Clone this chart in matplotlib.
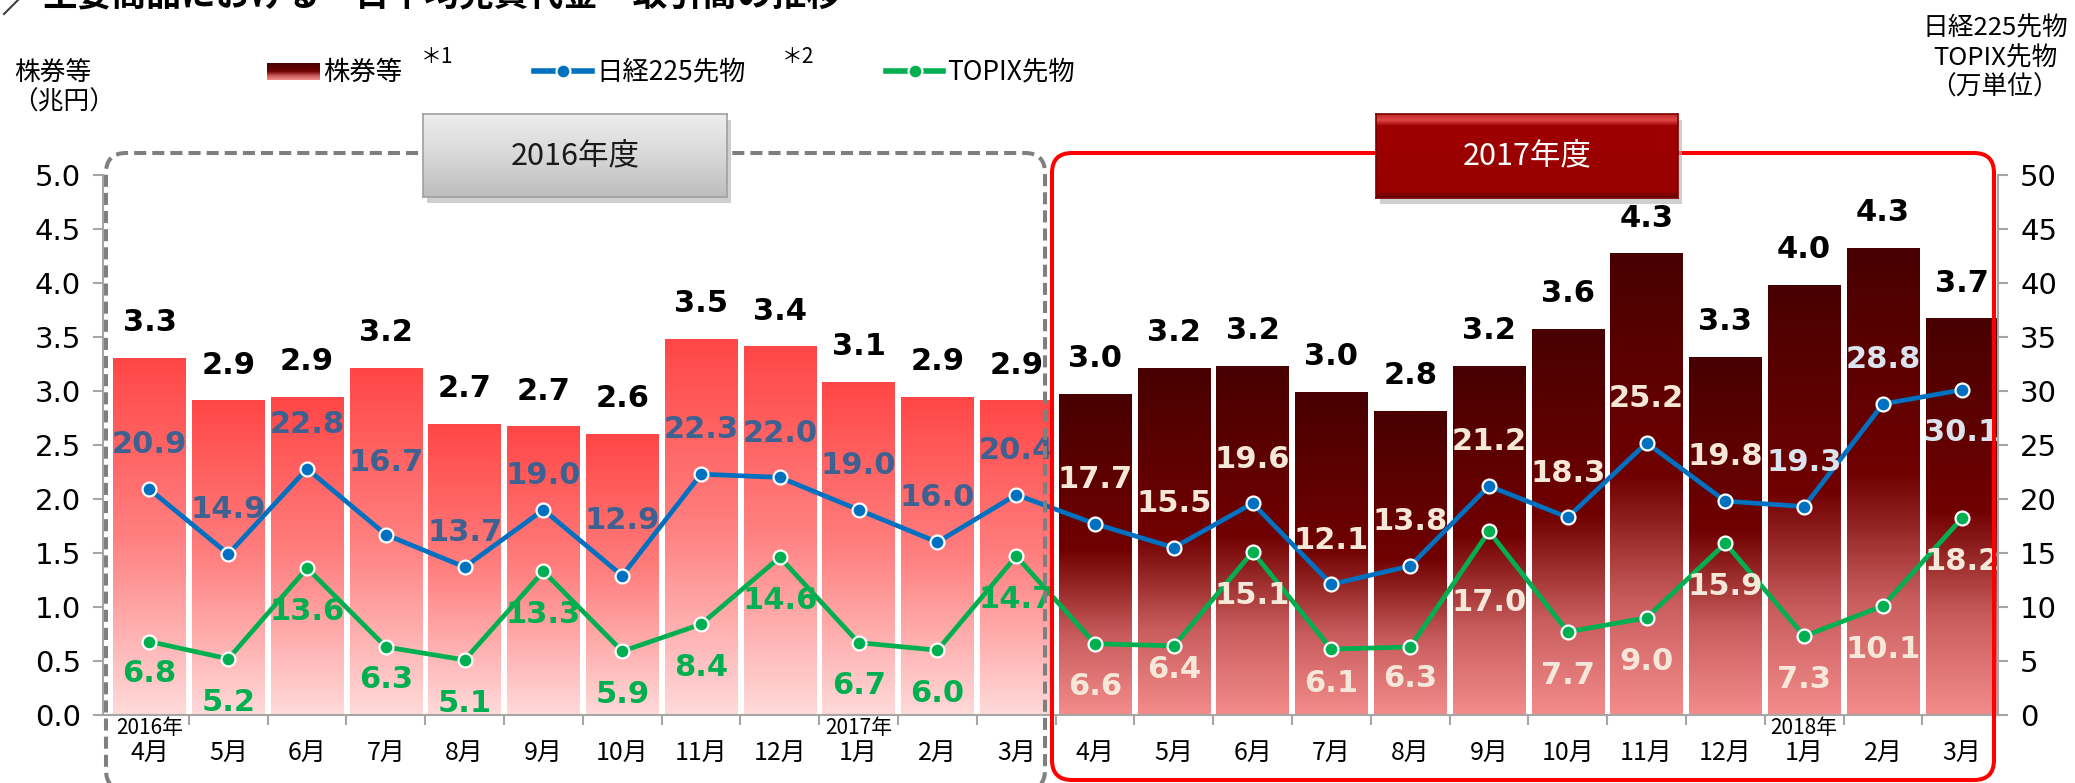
"""Daily average trading value / volume of main products"""

#%% Importing modules
import numpy as np
import matplotlib
matplotlib.use('Agg')
import matplotlib.pyplot as plt
from matplotlib.colors import LinearSegmentedColormap
from matplotlib.patches import FancyBboxPatch, Rectangle
from matplotlib.lines import Line2D
from matplotlib.transforms import IdentityTransform

plt.rcParams['font.family'] = ['Noto Sans CJK JP', 'DejaVu Sans']

#%% Data
months = ['4月', '5月', '6月', '7月', '8月', '9月', '10月', '11月', '12月', '1月', '2月', '3月'] * 2
years = {0: '2016年', 9: '2017年', 21: '2018年'}

# 株券等 (兆円)
stocks = [3.30, 2.91, 2.94, 3.21, 2.69, 2.67, 2.60, 3.48, 3.41, 3.08, 2.94, 2.91,
          2.97, 3.21, 3.23, 2.99, 2.81, 3.23, 3.57, 4.27, 3.31, 3.98, 4.32, 3.67]
# 日経225先物 (万単位)
nikkei = [20.9, 14.9, 22.8, 16.7, 13.7, 19.0, 12.9, 22.3, 22.0, 19.0, 16.0, 20.4,
          17.7, 15.5, 19.6, 12.1, 13.8, 21.2, 18.3, 25.2, 19.8, 19.3, 28.8, 30.1]
# TOPIX先物 (万単位)
topix = [6.8, 5.2, 13.6, 6.3, 5.1, 13.3, 5.9, 8.4, 14.6, 6.7, 6.0, 14.7,
         6.6, 6.4, 15.1, 6.1, 6.3, 17.0, 7.7, 9.0, 15.9, 7.3, 10.1, 18.2]

#%% Layout helpers (pixel -> figure fraction)
W, H = 2075, 783
def fx(px):
    return px / W
def fy(py):
    return 1 - py / H

GRAY = '#A6A6A6'
BLUE = '#0070C0'
GREEN = '#00B050'
cmap16 = LinearSegmentedColormap.from_list('c16', ['#FFDADA', '#FF8080', '#FF4646'])
cmap17 = LinearSegmentedColormap.from_list(
    'c17', [(0, '#F48C8C'), (0.25, '#C85C5C'), (0.42, '#902020'),
            (0.52, '#700000'), (1.0, '#480000')])
grad = np.linspace(0, 1, 256).reshape(-1, 1)

#%% Figure and axes
fig = plt.figure(figsize=(20.75, 7.83), dpi=100)
ax = fig.add_axes([fx(103), fy(715), fx(1998) - fx(103), fy(175) - fy(715)])
ax2 = ax.twinx()

x = np.arange(len(stocks))
bars = ax.bar(x, stocks, width=0.92, color='none', edgecolor='none')
for i, b in enumerate(bars):
    cm = cmap16 if i < 12 else cmap17
    ax.imshow(grad, cmap=cm, origin='lower', aspect='auto', zorder=1,
              extent=[b.get_x(), b.get_x() + b.get_width(), 0, b.get_height()])
    ax.text(b.get_x() + b.get_width() / 2, b.get_height() + 0.33, f'{stocks[i]:.1f}',
            ha='center', va='center', fontsize=22, fontweight='bold',
            family='DejaVu Sans', color='black')
ax.set_xlim(-0.59, 23.46)
ax.set_ylim(0, 5)

#%% Lines
ax2.plot(x, nikkei, color=BLUE, lw=3.4, marker='o', ms=10, mfc=BLUE,
         mec='white', mew=1.6, zorder=3)
ax2.plot(x, topix, color=GREEN, lw=3.4, marker='o', ms=10, mfc=GREEN,
         mec='white', mew=1.6, zorder=3)
ax2.set_ylim(0, 50)

# label offsets (in right-axis units)
nk_off = {3: 6.7, 4: 3.2, 5: 3.2, 6: 5.1, 23: -3.9}
tp_off = {0: -3, 3: -3, 13: -2.2, 15: -3.2, 16: -2.9, 17: -6.6}
for i in x:
    if i < 12:
        c_nk, c_tp = '#3D6190', GREEN
    else:
        c_nk = '#DAE3EE' if i >= 21 else '#F5E8D8'
        c_tp = '#F5E8D8'
    ax2.text(i, nikkei[i] + nk_off.get(i, 4.1), f'{nikkei[i]:.1f}', ha='center',
             va='center', fontsize=22, fontweight='bold', family='DejaVu Sans',
             color=c_nk, zorder=4)
    ax2.text(i, topix[i] + tp_off.get(i, -4.0), f'{topix[i]:.1f}', ha='center',
             va='center', fontsize=22, fontweight='bold', family='DejaVu Sans',
             color=c_tp, zorder=4)

#%% Axes styling
for s in ['top', 'right']:
    ax.spines[s].set_visible(False)
for s in ['top', 'left', 'bottom']:
    ax2.spines[s].set_visible(False)
for sp in [ax.spines['left'], ax.spines['bottom'], ax2.spines['right']]:
    sp.set_color(GRAY)
    sp.set_linewidth(1.5)

ax.set_xticks(x)
ax.set_xticklabels(months, fontsize=18)
ax.tick_params(axis='x', which='major', length=0, pad=18)
ax.set_xticks(np.arange(0.5, 23, 1), minor=True)
ax.tick_params(axis='x', which='minor', length=7, width=1.5, color=GRAY)

yt = np.arange(0, 5.01, 0.5)
ax.set_yticks(yt)
ax.set_yticklabels([f'{v:.1f}' for v in yt], fontsize=21, family='DejaVu Sans')
ax.tick_params(axis='y', length=7, width=1.5, color=GRAY, pad=9)
ax2.set_yticks(range(0, 51, 5))
ax2.set_yticklabels([str(v) for v in range(0, 51, 5)], fontsize=21, family='DejaVu Sans')
ax2.tick_params(axis='y', length=7, width=1.5, color=GRAY, pad=9)

for i, yl in years.items():
    ax.text(i, -0.024, yl, transform=ax.get_xaxis_transform(), ha='center',
            va='center', fontsize=15)

#%% Fiscal year frames (pixel coordinates)
px = IdentityTransform()
fig.add_artist(FancyBboxPatch((106, H - 790), 1045 - 106, 790 - 153,
                              boxstyle='round,pad=0,rounding_size=20', transform=px,
                              fill=False, ec='#7F7F7F', lw=2.9, ls=(0, (3, 1.5)), zorder=2))
fig.add_artist(FancyBboxPatch((1052, H - 780), 1994 - 1052, 780 - 153,
                              boxstyle='round,pad=0,rounding_size=20', transform=px,
                              fill=False, ec='#FF0000', lw=2.9, zorder=2))

def year_box(x0, x1, y0, y1, cmap, text, tcolor, ec):
    fig.add_artist(Rectangle((x0 + 4, H - y1 - 6), x1 - x0, y1 - y0, transform=px,
                             fc='#B0B0B0', ec='none', alpha=0.6, zorder=3))
    bax = fig.add_axes([fx(x0), fy(y1), (x1 - x0) / W, (y1 - y0) / H], zorder=5)
    bax.imshow(grad, cmap=cmap, origin='lower', aspect='auto', extent=[0, 1, 0, 1])
    bax.set_xticks([])
    bax.set_yticks([])
    for sp in bax.spines.values():
        sp.set_color(ec)
        sp.set_linewidth(1.2)
    bax.text(0.5, 0.5, text, ha='center', va='center', fontsize=22, color=tcolor,
             transform=bax.transAxes)

year_box(423, 727, 114, 197,
         LinearSegmentedColormap.from_list('g', ['#BDBDBD', '#D8D8D8', '#EDEDED']),
         '2016年度', '#1A1A1A', '#A0A0A0')
year_box(1376, 1678, 114, 198,
         LinearSegmentedColormap.from_list(
             'r', [(0, '#640000'), (0.08, '#980000'), (0.86, '#9E0000'),
                   (0.93, '#E04848'), (1.0, '#C02828')]),
         '2017年度', 'white', '#7A0000')

#%% Legend
lax = fig.add_axes([fx(267), fy(80), (320 - 267) / W, (80 - 63) / H])
lax.imshow(grad, cmap=cmap17, origin='lower', aspect='auto', extent=[0, 1, 0, 1])
lax.axis('off')
fig.text(fx(323), fy(72), '株券等', ha='left', va='center', fontsize=19)
fig.text(fx(421), fy(57), '＊1', ha='left', va='center', fontsize=15)
for (x0, x1), col, lab in [((534, 592), BLUE, '日経225先物'), ((886, 943), GREEN, 'TOPIX先物')]:
    fig.add_artist(Line2D([fx(x0), fx(x1)], [fy(71), fy(71)], color=col, lw=4,
                          transform=fig.transFigure))
    fig.add_artist(Line2D([fx((x0 + x1) / 2)], [fy(71)], marker='o', ms=10, mfc=col,
                          mec='white', mew=1.6, transform=fig.transFigure))
    fig.text(fx(x1 + 4), fy(72), lab, ha='left', va='center', fontsize=19)
fig.text(fx(782), fy(57), '＊2', ha='left', va='center', fontsize=15)

#%% Axis titles and headline
fig.text(fx(14), fy(74), '株券等', ha='left', va='center', fontsize=18.5)
fig.text(fx(12), fy(103), '（兆円）', ha='left', va='center', fontsize=18.5)
fig.text(fx(1995), fy(58), '日経225先物\nTOPIX先物\n（万単位）', ha='center',
         va='center', fontsize=18.5, linespacing=1.2)
fig.text(fx(42), fy(-4), '主要商品における一日平均売買代金・取引高の推移', ha='left',
         va='center', fontsize=25, fontweight='bold')
fig.add_artist(Line2D([fx(4), fx(18)], [fy(14), fy(0)], color='#404040', lw=1.5,
                      transform=fig.transFigure))

plt.savefig('out.png', dpi=100)
